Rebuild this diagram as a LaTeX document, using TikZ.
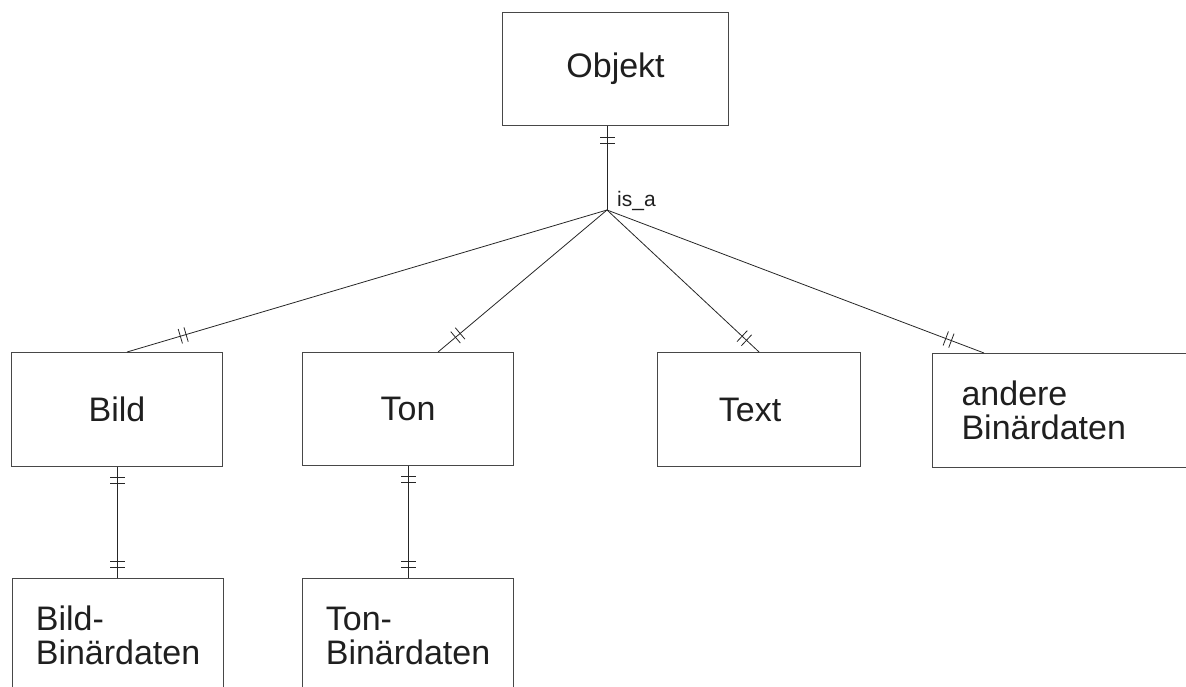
\documentclass[tikz,border=0pt]{standalone}
\usepackage{fontspec}
\setmainfont{Liberation Sans}
\begin{document}
\begin{tikzpicture}[x=1pt,y=-1pt,
  entity/.style={draw=black!72, line width=1.1pt, rectangle, anchor=north west,
    inner sep=0pt, font=\fontsize{34}{34}\selectfont, text=black!88, align=left},
  link/.style={draw=black!85, line width=0.8pt},
  dbar/.pic={\draw[black!85, line width=0.8pt] (-3,-7.5) -- (-3,7.5) (3,-7.5) -- (3,7.5);}
]
\useasboundingbox (0,0) rectangle (1186,686);
\clip (0,0) rectangle (1186,686);

% entities
\node[entity, minimum width=226pt, minimum height=113pt] (obj) at (502,12) {Objekt};
\node[entity, minimum width=211pt, minimum height=114pt] (bild) at (11,352) {Bild};
\node[entity, minimum width=211pt, minimum height=113pt] (ton) at (302,352) {Ton};
\node[entity, minimum width=203pt, minimum height=114pt] (text) at (657,352) {Text\hspace*{18pt}};
\node[entity, minimum height=114pt, text width=220pt, inner xsep=29pt] (andere) at (932,353) {andere\\Binärdaten};
\node[entity, minimum width=211pt, minimum height=114pt] (bildbin) at (12,578) {Bild-\\Binärdaten};
\node[entity, minimum width=211pt, minimum height=114pt] (tonbin) at (302,578) {Ton-\\Binärdaten};

% is_a junction
\coordinate (j) at (607,210);
\node[anchor=base west, inner sep=0pt, font=\fontsize{21}{22}\selectfont, text=black!88] (isa) at (617,206) {is\_a};

% generalisation connectors
\draw[link] (obj.south -| j) -- pic[pos=0.17, sloped]{dbar} (j);
\draw[link] (j) -- pic[pos=0.883, sloped]{dbar} ([xshift=10pt]bild.north);
\draw[link] (j) -- pic[pos=0.883, sloped]{dbar} ([xshift=30pt]ton.north);
\draw[link] (j) -- pic[pos=0.903, sloped]{dbar} (text.north);
\draw[link] (j) -- pic[pos=0.906, sloped]{dbar} ([xshift=52pt]andere.north west);

% one-to-one relations
\draw[link] (bild.south) -- pic[pos=0.12, sloped]{dbar} pic[pos=0.88, sloped]{dbar} (bild.south |- bildbin.north);
\draw[link] (ton.south) -- pic[pos=0.12, sloped]{dbar} pic[pos=0.88, sloped]{dbar} (ton.south |- tonbin.north);
\end{tikzpicture}
\end{document}
